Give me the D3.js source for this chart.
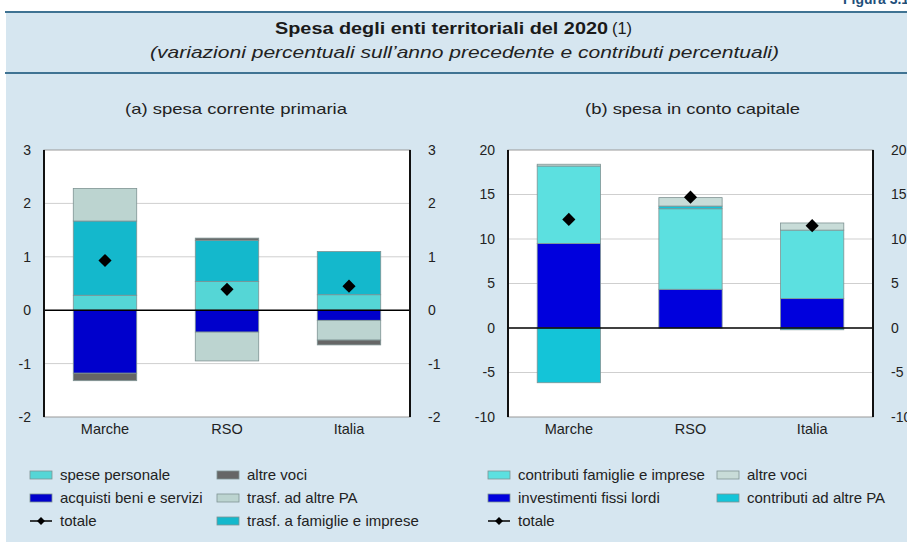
<!DOCTYPE html>
<html>
<head>
<meta charset="utf-8">
<script src="https://cdn.jsdelivr.net/npm/d3@7"></script>
<style>
  body { margin: 0; background: #fff; }
  svg { display: block; font-family: "Liberation Sans", Arial, sans-serif; }
</style>
</head>
<body>
<svg id="chart" width="907" height="542"></svg>
<script>
// categories
const categories = ["Marche", "RSO", "Italia"];

// (a) spesa corrente primaria
const spesePersonale = [0.28, 0.54, 0.29];
const acquistiBeni = [-1.18, -0.41, -0.19];
const trasfFamiglie = [1.39, 0.77, 0.81];
const trasfAltrePA = [0.61, -0.54, -0.37];
const altreVociCorr = [-0.14, 0.04, -0.09];
const totaleCorr = [0.93, 0.39, 0.45];
const ticksCorr = [-2, -1, 0, 1, 2, 3];

// (b) spesa in conto capitale
const investimenti = [9.5, 4.35, 3.3];
const contribFamiglie = [8.7, 9.05, 7.7];
const contribAltrePA = [-6.15, 0.3, -0.2];
const altreVociCap = [0.2, 0.95, 0.8];
const totaleCap = [12.2, 14.7, 11.5];
const ticksCap = [-10, -5, 0, 5, 10, 15, 20];

const svg = d3.select("#chart");
const W = 907, H = 542;
const FONT = "'Liberation Sans', Arial, sans-serif";

// background panel
svg.append("rect").attr("x", 0).attr("y", 0).attr("width", W).attr("height", H).attr("fill", "#fff");
svg.append("rect").attr("x", 6).attr("y", 12).attr("width", W - 6).attr("height", H - 12).attr("fill", "#d6e6f0");
svg.append("line").attr("x1", 5).attr("x2", W).attr("y1", 12).attr("y2", 12)
  .attr("stroke", "#3f7393").attr("stroke-width", 2);
svg.append("line").attr("x1", 5).attr("x2", W).attr("y1", 73).attr("y2", 73)
  .attr("stroke", "#3f7393").attr("stroke-width", 2);
svg.append("text").attr("x", 843).attr("y", 4).attr("font-size", 14).attr("font-weight", "bold")
  .attr("fill", "#1f4f7a").text("Figura 3.1");

// titles (reference type is wide, so stretch to measured widths)
svg.append("text").attr("x", 275).attr("y", 34)
  .attr("font-size", 17).attr("font-weight", "bold").attr("fill", "#1a1a1a")
  .attr("textLength", 333).attr("lengthAdjust", "spacingAndGlyphs")
  .text("Spesa degli enti territoriali del 2020");
svg.append("text").attr("x", 612).attr("y", 34)
  .attr("font-size", 17).attr("fill", "#1a1a1a")
  .attr("textLength", 20).attr("lengthAdjust", "spacingAndGlyphs").text("(1)");
svg.append("text").attr("x", 150).attr("y", 58)
  .attr("font-size", 16.5).attr("font-style", "italic").attr("fill", "#222")
  .attr("textLength", 629).attr("lengthAdjust", "spacingAndGlyphs")
  .text("(variazioni percentuali sull\u2019anno precedente e contributi percentuali)");

function panel(opts) {
  const { x0, x1, y0, y1, domain, ticks, keys, values, colors, totale, title, titleX, titleW } = opts;
  const g = svg.append("g");

  const x = d3.scaleBand().domain(categories).range([x0, x1]).paddingInner(0.48).paddingOuter(0.24);
  const y = d3.scaleLinear().domain(domain).range([y1, y0]);

  g.append("text").attr("x", titleX).attr("y", 114)
    .attr("font-size", 15).attr("fill", "#222")
    .attr("textLength", titleW).attr("lengthAdjust", "spacingAndGlyphs").text(title);

  g.append("rect").attr("x", x0).attr("y", y0).attr("width", x1 - x0).attr("height", y1 - y0)
    .attr("fill", "#fff").attr("stroke", "#999").attr("stroke-width", 1);

  // grid
  g.selectAll(".grid").data(ticks.filter(t => t !== 0 && t !== domain[0] && t !== domain[1]))
    .enter().append("line")
    .attr("x1", x0).attr("x2", x1)
    .attr("y1", d => y(d)).attr("y2", d => y(d))
    .attr("stroke", "#cfcfcf").attr("stroke-width", 1);

  // stacked bars
  const rows = categories.map((c, i) => {
    const r = { cat: c };
    keys.forEach(k => r[k] = values[k][i]);
    return r;
  });
  const stack = d3.stack().keys(keys).offset(d3.stackOffsetDiverging)(rows);
  g.selectAll(".serie").data(stack).enter().append("g")
    .attr("fill", d => colors[d.key])
    .selectAll("rect").data(d => d).enter().append("rect")
    .attr("x", d => x(d.data.cat))
    .attr("width", x.bandwidth())
    .attr("y", d => y(Math.max(d[0], d[1])))
    .attr("height", d => Math.abs(y(d[0]) - y(d[1])))
    .attr("stroke", "#7f9393").attr("stroke-width", 0.8);

  // zero line and vertical axes
  g.append("line").attr("x1", x0).attr("x2", x1).attr("y1", y(0)).attr("y2", y(0))
    .attr("stroke", "#000").attr("stroke-width", 1.6);
  g.append("line").attr("x1", x0).attr("x2", x0).attr("y1", y0).attr("y2", y1)
    .attr("stroke", "#111").attr("stroke-width", 2);
  g.append("line").attr("x1", x1).attr("x2", x1).attr("y1", y0).attr("y2", y1)
    .attr("stroke", "#111").attr("stroke-width", 2);

  // totals
  g.selectAll(".tot").data(totale).enter().append("path")
    .attr("d", d3.symbol().type(d3.symbolDiamond2).size(110))
    .attr("transform", (d, i) => "translate(" + (x(categories[i]) + x.bandwidth() / 2) + "," + y(d) + ")")
    .attr("fill", "#000");

  // axes
  const fmt = d => String(d);
  const left = g.append("g").attr("transform", "translate(" + (x0 - 13) + ",0)")
    .call(d3.axisLeft(y).tickValues(ticks).tickFormat(fmt).tickSize(0).tickPadding(0));
  const right = g.append("g").attr("transform", "translate(" + (x1 + 18) + ",0)")
    .call(d3.axisRight(y).tickValues(ticks).tickFormat(fmt).tickSize(0).tickPadding(0));
  [left, right].forEach(a => {
    a.select(".domain").remove();
    a.selectAll("text").attr("font-size", 14).attr("fill", "#222").attr("font-family", FONT);
  });

  const bottom = g.append("g").attr("transform", "translate(0," + y1 + ")")
    .call(d3.axisBottom(x).tickSize(0).tickPadding(7));
  bottom.select(".domain").remove();
  bottom.selectAll("text").attr("font-size", 14.5).attr("fill", "#222").attr("font-family", FONT);

  return g;
}

function legend(items, x, y) {
  const g = svg.append("g").attr("transform", "translate(" + x + "," + y + ")");
  items.forEach(it => {
    const row = g.append("g").attr("transform", "translate(" + it.col + "," + it.row * 23 + ")");
    if (it.color) {
      row.append("rect").attr("x", 0).attr("y", -4).attr("width", 22).attr("height", 8)
        .attr("fill", it.color).attr("stroke", "#7f9393").attr("stroke-width", 0.8);
    } else {
      row.append("line").attr("x1", 0).attr("x2", 22).attr("y1", 0).attr("y2", 0)
        .attr("stroke", "#000").attr("stroke-width", 1.5);
      row.append("path").attr("transform", "translate(11,0)")
        .attr("d", d3.symbol().type(d3.symbolDiamond2).size(40)).attr("fill", "#000");
    }
    row.append("text").attr("x", 30).attr("y", 5).attr("font-size", 15).attr("fill", "#222").text(it.label);
  });
}

const colCorr = {
  spesePersonale: "#55d6d6",
  acquistiBeni: "#0000cc",
  trasfFamiglie: "#14b8cc",
  trasfAltrePA: "#bcd4d0",
  altreVoci: "#666666"
};
panel({
  x0: 44, x1: 410, y0: 150, y1: 417,
  domain: [-2, 3], ticks: ticksCorr,
  keys: ["spesePersonale", "acquistiBeni", "trasfFamiglie", "trasfAltrePA", "altreVoci"],
  values: { spesePersonale, acquistiBeni, trasfFamiglie, trasfAltrePA, altreVoci: altreVociCorr },
  colors: colCorr, totale: totaleCorr,
  title: "(a) spesa corrente primaria", titleX: 125, titleW: 222
});

const colCap = {
  investimenti: "#0000dd",
  contribFamiglie: "#5ce0e0",
  contribAltrePA: "#14c4d8",
  altreVoci: "#c8dcd8"
};
panel({
  x0: 508, x1: 873, y0: 150, y1: 417,
  domain: [-10, 20], ticks: ticksCap,
  keys: ["investimenti", "contribFamiglie", "contribAltrePA", "altreVoci"],
  values: { investimenti, contribFamiglie, contribAltrePA, altreVoci: altreVociCap },
  colors: colCap, totale: totaleCap,
  title: "(b) spesa in conto capitale", titleX: 585, titleW: 215
});

legend([
  { label: "spese personale", color: colCorr.spesePersonale, col: 0, row: 0 },
  { label: "acquisti beni e servizi", color: colCorr.acquistiBeni, col: 0, row: 1 },
  { label: "totale", col: 0, row: 2 },
  { label: "altre voci", color: colCorr.altreVoci, col: 187, row: 0 },
  { label: "trasf. ad altre PA", color: colCorr.trasfAltrePA, col: 187, row: 1 },
  { label: "trasf. a famiglie e imprese", color: colCorr.trasfFamiglie, col: 187, row: 2 }
], 30, 475);

legend([
  { label: "contributi famiglie e imprese", color: colCap.contribFamiglie, col: 0, row: 0 },
  { label: "investimenti fissi lordi", color: colCap.investimenti, col: 0, row: 1 },
  { label: "totale", col: 0, row: 2 },
  { label: "altre voci", color: colCap.altreVoci, col: 229, row: 0 },
  { label: "contributi ad altre PA", color: colCap.contribAltrePA, col: 229, row: 1 }
], 488, 475);
</script>
</body>
</html>
